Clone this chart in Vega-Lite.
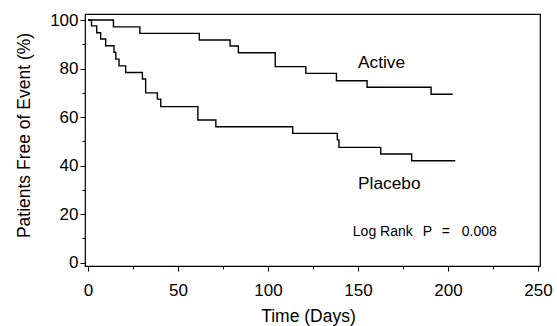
{
  "$schema": "https://vega.github.io/schema/vega-lite/v6.json",
  "width": 455,
  "height": 252,
  "autosize": "none",
  "padding": {"left": 85, "top": 14, "right": 17, "bottom": 60},
  "background": "white",
  "config": {
    "font": "Liberation Sans",
    "view": {"stroke": "black", "strokeWidth": 1.2},
    "axis": {"grid": false, "domain": false, "tickColor": "black", "labelColor": "black", "titleColor": "black", "labelFont": "Liberation Sans", "titleFont": "Liberation Sans", "titleFontWeight": "normal"}
  },
  "resolve": {"axis": {"x": "independent", "y": "independent"}},
  "datasets": {
    "km": [
      {"group": "Active", "day": 0, "pct": 100},
      {"group": "Active", "day": 14.1, "pct": 97.2},
      {"group": "Active", "day": 28.8, "pct": 94.5},
      {"group": "Active", "day": 61.8, "pct": 91.8},
      {"group": "Active", "day": 78.9, "pct": 89.3},
      {"group": "Active", "day": 83.5, "pct": 86.5},
      {"group": "Active", "day": 104, "pct": 80.8},
      {"group": "Active", "day": 121, "pct": 78.0},
      {"group": "Active", "day": 138, "pct": 75.0},
      {"group": "Active", "day": 155, "pct": 72.3},
      {"group": "Active", "day": 190.6, "pct": 69.4},
      {"group": "Active", "day": 202.6, "pct": 69.4},
      {"group": "Placebo", "day": 0, "pct": 100},
      {"group": "Placebo", "day": 1.9, "pct": 97.6},
      {"group": "Placebo", "day": 4.8, "pct": 94.8},
      {"group": "Placebo", "day": 7, "pct": 92.2},
      {"group": "Placebo", "day": 9.8, "pct": 89.4},
      {"group": "Placebo", "day": 14.4, "pct": 86.7},
      {"group": "Placebo", "day": 15.4, "pct": 83.9},
      {"group": "Placebo", "day": 17.2, "pct": 81.1},
      {"group": "Placebo", "day": 20.9, "pct": 78.4},
      {"group": "Placebo", "day": 30.2, "pct": 75.7},
      {"group": "Placebo", "day": 32, "pct": 70.0},
      {"group": "Placebo", "day": 38.5, "pct": 67.4},
      {"group": "Placebo", "day": 40.4, "pct": 64.3},
      {"group": "Placebo", "day": 61, "pct": 58.8},
      {"group": "Placebo", "day": 71, "pct": 56.0},
      {"group": "Placebo", "day": 113.7, "pct": 53.3},
      {"group": "Placebo", "day": 138.5, "pct": 50.6},
      {"group": "Placebo", "day": 139.4, "pct": 47.5},
      {"group": "Placebo", "day": 162.6, "pct": 44.8},
      {"group": "Placebo", "day": 179.8, "pct": 42.0},
      {"group": "Placebo", "day": 204, "pct": 42.0}
    ],
    "labels": [
      {"day": 150, "pct": 80.2, "text": "Active"},
      {"day": 150, "pct": 30.4, "text": "Placebo"}
    ],
    "stat": [
      {"day": 147.1, "pct": 11.0, "text": "Log  Rank", "style": "normal"},
      {"day": 185.9, "pct": 11.0, "text": "P", "style": "italic"},
      {"day": 196.5, "pct": 11.0, "text": "=", "style": "normal"},
      {"day": 207.6, "pct": 11.0, "text": "0.008", "style": "normal"}
    ]
  },
  "layer": [
    {
      "data": {"name": "km"},
      "mark": {"type": "line", "interpolate": "step-after", "color": "black", "strokeWidth": 1.4},
      "encoding": {
        "x": {"field": "day", "type": "quantitative", "scale": {"domain": [-1.7, 251.1], "nice": false, "zero": false},
          "axis": {"orient": "bottom", "title": "Time  (Days)", "values": [0, 50, 100, 150, 200, 250], "tickSize": 5, "labelFontSize": 17, "labelBaseline": "alphabetic", "labelPadding": 24, "titleFontSize": 17.5, "titleBaseline": "alphabetic", "titleY": 55, "titleX": 223, "titleAlign": "center", "labelFlush": false}},
        "y": {"field": "pct", "type": "quantitative", "scale": {"domain": [-1.4, 102.5], "nice": false, "zero": false},
          "axis": {"orient": "left", "title": "Patients  Free  of  Event  (%)", "values": [0, 20, 40, 60, 80, 100], "tickSize": 5, "labelFontSize": 17, "labelPadding": 2, "titleFontSize": 17.5, "titleBaseline": "alphabetic", "titleAngle": -90, "titleX": -56, "titleY": 121, "titleAlign": "center", "labelFlush": false}},
        "detail": {"field": "group"}
      }
    },
    {
      "data": {"name": "labels"},
      "mark": {"type": "text", "align": "left", "baseline": "alphabetic", "fontSize": 17.3, "color": "black"},
      "encoding": {
        "x": {"field": "day", "type": "quantitative", "axis": null},
        "y": {"field": "pct", "type": "quantitative", "axis": null},
        "text": {"field": "text"}
      }
    },
    {
      "data": {"name": "stat"},
      "mark": {"type": "text", "align": "left", "baseline": "alphabetic", "fontSize": 14, "color": "black"},
      "encoding": {
        "x": {"field": "day", "type": "quantitative",
          "axis": {"orient": "bottom", "values": [25, 75, 125, 175, 225], "labels": false, "tickSize": 3, "title": null}},
        "y": {"field": "pct", "type": "quantitative",
          "axis": {"orient": "left", "values": [10, 30, 50, 70, 90], "labels": false, "tickSize": 3, "title": null}},
        "text": {"field": "text"},
        "fontStyle": {"field": "style", "type": "nominal", "scale": null}
      }
    }
  ]
}
